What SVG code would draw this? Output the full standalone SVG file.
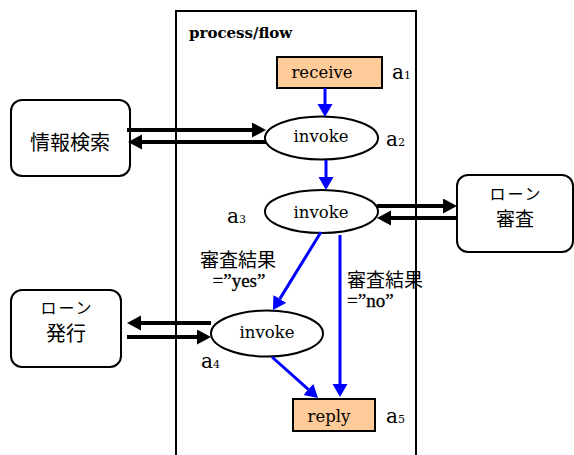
<svg xmlns="http://www.w3.org/2000/svg" width="574" height="455" viewBox="0 0 574 455">
  <style>
    .ser { font-family: "DejaVu Serif", "Liberation Serif", serif; fill: #000; }
    .jp { font-family: "Noto Sans CJK JP", "Noto Sans", sans-serif; fill: #000; }
    .kana { letter-spacing: 2px; }
    .cond { font-family: "Liberation Serif", "DejaVu Serif", serif; font-size: 19px; fill: #000; stroke: #000; stroke-width: 0.3; }
    .act { fill: #FFCC99; stroke: #000; stroke-width: 2; }
    .inv { fill: #fff; stroke: #000; stroke-width: 2; }
    .partner { fill: #fff; stroke: #000; stroke-width: 2; }
    .msg { stroke: #000; stroke-width: 4; fill: none; marker-end: url(#headK); }
    .ctl { stroke: #0000FF; stroke-width: 3; fill: none; marker-end: url(#headB); }
    .lbl { font-size: 20px; }
    .sub { font-size: 11px; }
  </style>
  <defs>
    <marker id="headK" markerUnits="userSpaceOnUse" markerWidth="16" markerHeight="16" refX="0" refY="7.5" orient="auto" viewBox="0 0 16 16">
      <path d="M0,0 L14,7.5 L0,15 Z" fill="#000"/>
    </marker>
    <marker id="headB" markerUnits="userSpaceOnUse" markerWidth="16" markerHeight="16" refX="0" refY="7.5" orient="auto" viewBox="0 0 16 16">
      <path d="M0,0 L13,7.5 L0,15 Z" fill="#0000FF"/>
    </marker>
  </defs>

  <rect width="574" height="455" fill="#fff"/>

  <!-- process container -->
  <g id="process">
    <rect x="176" y="11" width="240" height="470" fill="none" stroke="#000" stroke-width="2"/>
    <text class="ser" x="189" y="38" font-size="15" font-weight="bold">process/flow</text>
  </g>

  <!-- activities -->
  <g id="a1">
    <rect class="act" x="277" y="57" width="105" height="31"/>
    <text class="ser" x="322" y="78" font-size="16.5" text-anchor="middle">receive</text>
    <text class="ser lbl" x="392" y="79">a<tspan class="sub">1</tspan></text>
  </g>
  <g id="a2">
    <ellipse class="inv" cx="321.5" cy="138" rx="56.5" ry="21.5"/>
    <text class="ser" x="321" y="142" font-size="16.5" text-anchor="middle">invoke</text>
    <text class="ser lbl" x="386" y="146">a<tspan class="sub">2</tspan></text>
  </g>
  <g id="a3">
    <ellipse class="inv" cx="321.5" cy="211.5" rx="56.5" ry="21.5"/>
    <text class="ser" x="321" y="218" font-size="16.5" text-anchor="middle">invoke</text>
    <text class="ser lbl" x="227" y="223">a<tspan class="sub">3</tspan></text>
  </g>
  <g id="a4">
    <ellipse class="inv" cx="267" cy="333.5" rx="56" ry="23"/>
    <text class="ser" x="267" y="338" font-size="16.5" text-anchor="middle">invoke</text>
    <text class="ser lbl" x="201" y="368">a<tspan class="sub">4</tspan></text>
  </g>
  <g id="a5">
    <rect class="act" x="293" y="399" width="82" height="32"/>
    <text class="ser" x="329" y="422" font-size="16.5" text-anchor="middle">reply</text>
    <text class="ser lbl" x="386" y="423">a<tspan class="sub">5</tspan></text>
  </g>

  <!-- partner services -->
  <g id="search">
    <rect class="partner" x="11" y="100" width="119" height="76" rx="11"/>
    <text class="jp" x="70" y="150" font-size="20" text-anchor="middle">情報検索</text>
  </g>
  <g id="review">
    <rect class="partner" x="457" y="175" width="116" height="77" rx="11"/>
    <text class="jp kana" x="516" y="200" font-size="16" text-anchor="middle">ローン</text>
    <text class="jp" x="515" y="226" font-size="19" text-anchor="middle">審査</text>
  </g>
  <g id="issue">
    <rect class="partner" x="11" y="290" width="110" height="77" rx="11"/>
    <text class="jp kana" x="67" y="314" font-size="16" text-anchor="middle">ローン</text>
    <text class="jp" x="66" y="341" font-size="20" text-anchor="middle">発行</text>
  </g>

  <!-- connectors -->
  <g id="connectors">
    <!-- message exchanges -->
    <line class="msg" x1="127" y1="130" x2="252" y2="130"/>
    <line class="msg" x1="266" y1="142" x2="142" y2="142"/>
    <line class="msg" x1="377" y1="206" x2="443" y2="206"/>
    <line class="msg" x1="457" y1="218" x2="391" y2="218"/>
    <line class="msg" x1="211" y1="323" x2="141" y2="323"/>
    <line class="msg" x1="127" y1="337" x2="197" y2="337"/>
    <!-- control flow -->
    <line class="ctl" x1="325" y1="88" x2="325" y2="104"/>
    <line class="ctl" x1="326" y1="160" x2="326" y2="177"/>
    <line class="ctl" x1="321" y1="232" x2="279.8" y2="298.9"/>
    <line class="ctl" x1="340" y1="235" x2="340" y2="384"/>
    <line class="ctl" x1="272" y1="357" x2="308.3" y2="389.3"/>
  </g>

  <!-- branch conditions -->
  <g id="conditions">
    <text class="jp" x="238" y="267" font-size="19" text-anchor="middle">審査結果</text>
    <text class="cond" x="239" y="287" text-anchor="middle">=”yes”</text>
    <text class="jp" x="347" y="287" font-size="19">審査結果</text>
    <text class="cond" x="347" y="307">=”no”</text>
  </g>
</svg>
